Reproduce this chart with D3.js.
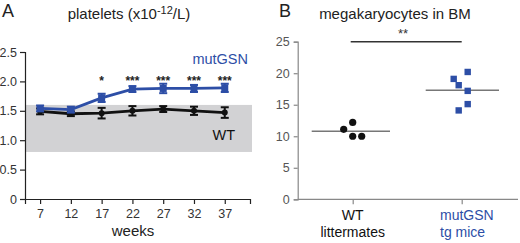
<!DOCTYPE html>
<html lang="en">
<head>
<meta charset="utf-8">
<title>platelets and megakaryocytes</title>
<script src="https://d3js.org/d3.v7.min.js"></script>
<style>
  body { margin: 0; background: #fff; }
  svg text { font-family: Arial, "Liberation Sans", sans-serif; }
  .axA .domain, .axA line { stroke: #222; stroke-width: 1.2; }
  .axA text { font-size: 12.5px; fill: #333; }
  .axB .domain, .axB line { stroke: #888; stroke-width: 1.2; }
  .axB text { font-size: 12.5px; fill: #555; }
</style>
</head>
<body>
<script>
// Panel A data
const weeks = [7, 12, 17, 22, 27, 32, 37];
const mutMean = [1.54, 1.52, 1.72, 1.87, 1.88, 1.88, 1.89];
const mutErr  = [0.05, 0.05, 0.07, 0.05, 0.08, 0.06, 0.07];
const wtMean  = [1.49, 1.45, 1.46, 1.50, 1.53, 1.50, 1.47];
const wtErr   = [0.05, 0.04, 0.09, 0.08, 0.05, 0.07, 0.09];
const stars   = ["", "", "*", "***", "***", "***", "***"];
const bandRange = [0.8, 1.6];
const yTicksA = [0, 0.5, 1.0, 1.5, 2.0, 2.5];

// Panel B data
const groups = ["WT", "mutGSN"];
const wtCells  = [11.1, 12.2, 10.0, 10.0];
const wtJitter = [-9, 0, 0, 9];
const mutCells  = [19.1, 18.1, 20.2, 17.2, 15.1, 14.1];
const mutJitter = [-8, -3, 6, 6, 6, -3];
const wtCellMean = 10.8;
const mutCellMean = 17.3;
const yTicksB = [0, 5, 10, 15, 20, 25];

const blue = "#2d4ea6";
const W = 520, H = 243;
const svg = d3.select("body").append("svg").attr("width", W).attr("height", H);

// ---------- Panel A ----------
const xA = d3.scaleLinear().domain([4.55, 41.1]).range([25, 250]);
const yA = d3.scaleLinear().domain([0, 2.5]).range([199, 52]);

svg.append("rect")
  .attr("x", xA(4.55)).attr("width", xA(41.1) - xA(4.55) + 2)
  .attr("y", yA(bandRange[1])).attr("height", yA(bandRange[0]) - yA(bandRange[1]))
  .attr("fill", "#d2d2d4");

svg.append("g").attr("class", "axA")
  .attr("transform", "translate(0,199)")
  .call(d3.axisBottom(xA).tickValues(weeks).tickSize(5).tickPadding(5).tickFormat(d3.format("d")));

svg.append("g").attr("class", "axA")
  .attr("transform", "translate(25,0)")
  .call(d3.axisLeft(yA).tickValues(yTicksA).tickSize(5).tickPadding(3)
    .tickFormat(d => d === 0 ? "0" : d3.format(".1f")(d)));

function series(mean, err, color, shape) {
  const pts = weeks.map((w, i) => ({ w, m: mean[i], e: err[i] }));
  svg.append("path").datum(pts)
    .attr("fill", "none").attr("stroke", color).attr("stroke-width", 2.8)
    .attr("d", d3.line().x(d => xA(d.w)).y(d => yA(d.m)));
  const g = svg.append("g");
  pts.forEach(d => {
    g.append("line").attr("x1", xA(d.w)).attr("x2", xA(d.w))
      .attr("y1", yA(d.m - d.e)).attr("y2", yA(d.m + d.e))
      .attr("stroke", color).attr("stroke-width", 2);
    [d.m - d.e, d.m + d.e].forEach(v => {
      g.append("line").attr("x1", xA(d.w) - 4).attr("x2", xA(d.w) + 4)
        .attr("y1", yA(v)).attr("y2", yA(v))
        .attr("stroke", color).attr("stroke-width", 2);
    });
    if (shape === "square") {
      g.append("rect").attr("x", xA(d.w) - 3.5).attr("y", yA(d.m) - 3.5)
        .attr("width", 7).attr("height", 7).attr("fill", color);
    } else {
      g.append("circle").attr("cx", xA(d.w)).attr("cy", yA(d.m)).attr("r", 3).attr("fill", color);
    }
  });
}
series(wtMean, wtErr, "#111", "circle");
series(mutMean, mutErr, blue, "square");

svg.append("g").selectAll("text").data(weeks).join("text")
  .attr("x", d => xA(d)).attr("y", 85)
  .attr("text-anchor", "middle").attr("font-size", "12px").attr("font-weight", "bold").attr("fill", "#222")
  .text((d, i) => stars[i]);

svg.append("text").attr("x", 248).attr("y", 64).attr("text-anchor", "end")
  .attr("font-size", "14.5px").attr("fill", blue).text("mutGSN");
svg.append("text").attr("x", 235).attr("y", 140).attr("text-anchor", "end")
  .attr("font-size", "14.5px").attr("fill", "#111").text("WT");

svg.append("text").attr("x", 133).attr("y", 236).attr("text-anchor", "middle")
  .attr("font-size", "15px").attr("fill", "#222").text("weeks");

const tA = svg.append("text").attr("x", 129).attr("y", 19).attr("text-anchor", "middle")
  .attr("font-size", "15px").attr("fill", "#222");
tA.append("tspan").text("platelets (x10");
tA.append("tspan").attr("dy", -5).attr("font-size", "11px").text("-12");
tA.append("tspan").attr("dy", 5).text("/L)");

svg.append("text").attr("x", 2).attr("y", 17).attr("font-size", "18px").attr("fill", "#222").text("A");

// ---------- Panel B ----------
const xB = d3.scalePoint().domain(groups).range([352.7, 461.7]);
const yB = d3.scaleLinear().domain([0, 25]).range([199.3, 41.7]);

svg.append("g").attr("class", "axB")
  .attr("transform", "translate(0,199.3)")
  .call(d3.axisBottom(xB).tickSize(5).tickFormat(""))
  .select(".domain").attr("d", "M297.7,0H518");

svg.append("g").attr("class", "axB")
  .attr("transform", "translate(297.7,0)")
  .call(d3.axisLeft(yB).tickValues(yTicksB).tickSize(4).tickPadding(4));

svg.append("line").attr("x1", 311.7).attr("x2", 390)
  .attr("y1", yB(wtCellMean)).attr("y2", yB(wtCellMean))
  .attr("stroke", "#777").attr("stroke-width", 1.5);
svg.append("line").attr("x1", 425.7).attr("x2", 499)
  .attr("y1", yB(mutCellMean)).attr("y2", yB(mutCellMean))
  .attr("stroke", "#777").attr("stroke-width", 1.5);

svg.append("g").selectAll("circle").data(wtCells).join("circle")
  .attr("cx", (d, i) => xB("WT") + wtJitter[i]).attr("cy", d => yB(d))
  .attr("r", 3.6).attr("fill", "#111");

svg.append("g").selectAll("rect").data(mutCells).join("rect")
  .attr("x", (d, i) => xB("mutGSN") + mutJitter[i] - 3.2).attr("y", d => yB(d) - 3.2)
  .attr("width", 6.4).attr("height", 6.4).attr("fill", blue);

svg.append("line").attr("x1", xB("WT") - 2).attr("x2", xB("mutGSN"))
  .attr("y1", yB(25)).attr("y2", yB(25))
  .attr("stroke", "#333").attr("stroke-width", 1.5);
svg.append("text").attr("x", 403).attr("y", 38).attr("text-anchor", "middle")
  .attr("font-size", "13px").attr("fill", "#333").text("**");

svg.append("text").attr("x", 352.7).attr("y", 220).attr("text-anchor", "middle")
  .attr("font-size", "14px").attr("fill", "#111").text("WT");
svg.append("text").attr("x", 352.7).attr("y", 237).attr("text-anchor", "middle")
  .attr("font-size", "14px").attr("fill", "#111").text("littermates");
svg.append("text").attr("x", 440).attr("y", 220)
  .attr("font-size", "14px").attr("fill", blue).text("mutGSN");
svg.append("text").attr("x", 440).attr("y", 237)
  .attr("font-size", "14px").attr("fill", blue).text("tg mice");

svg.append("text").attr("x", 395).attr("y", 19).attr("text-anchor", "middle")
  .attr("font-size", "15px").attr("fill", "#222").text("megakaryocytes in BM");
svg.append("text").attr("x", 279).attr("y", 17).attr("font-size", "18px").attr("fill", "#222").text("B");
</script>
</body>
</html>
